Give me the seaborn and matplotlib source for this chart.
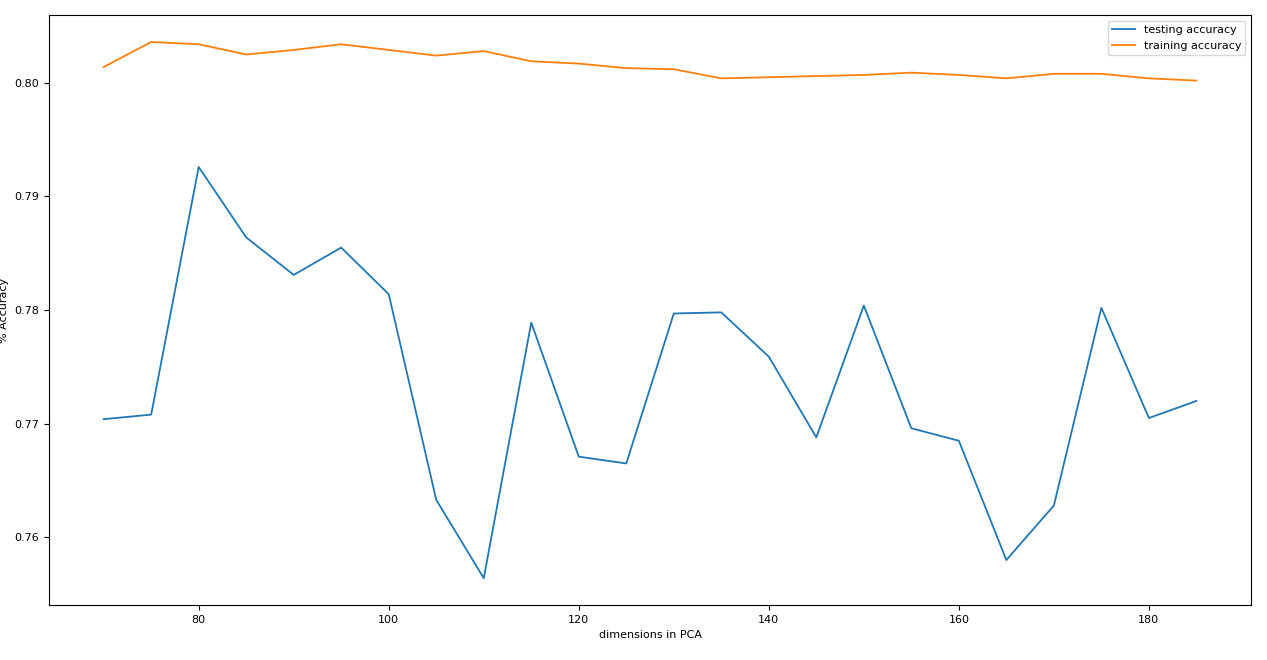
import pandas as pd
import seaborn as sns
import matplotlib.pyplot as plt

dims = [70, 75, 80, 85, 90, 95, 100, 105, 110, 115, 120, 125,
        130, 135, 140, 145, 150, 155, 160, 165, 170, 175, 180, 185]
testing_acc = [0.7704, 0.7708, 0.7926, 0.7864, 0.7831, 0.7855, 0.7814, 0.7633,
               0.7564, 0.7789, 0.7671, 0.7665, 0.7797, 0.7798, 0.7759, 0.7688,
               0.7804, 0.7696, 0.7685, 0.7580, 0.7628, 0.7802, 0.7705, 0.7720]
training_acc = [0.8014, 0.8036, 0.8034, 0.8025, 0.8029, 0.8034, 0.8029, 0.8024,
                0.8028, 0.8019, 0.8017, 0.8013, 0.8012, 0.8004, 0.8005, 0.8006,
                0.8007, 0.8009, 0.8007, 0.8004, 0.8008, 0.8008, 0.8004, 0.8002]

data = pd.DataFrame({"dims": dims, "testing": testing_acc, "training": training_acc})

fig = plt.figure(figsize=(12.67, 6.6), dpi=100)
ax = fig.add_axes([0.0387, 0.0833, 0.9487, 0.8937])

sns.lineplot(x="dims", y="testing", data=data, ax=ax,
             color="#1f77b4", linewidth=1.3, label="testing accuracy")
sns.lineplot(x="dims", y="training", data=data, ax=ax,
             color="#ff7f0e", linewidth=1.3, label="training accuracy")

ax.set_xlabel("dimensions in PCA", fontsize=8)
ax.set_ylabel("% Accuracy", fontsize=8)
ax.set_xticks([80, 100, 120, 140, 160, 180])
ax.set_yticks([0.76, 0.77, 0.78, 0.79, 0.80])
ax.tick_params(labelsize=8)
ax.legend(loc="upper right", fontsize=8)

plt.savefig("out.png", dpi=100)
